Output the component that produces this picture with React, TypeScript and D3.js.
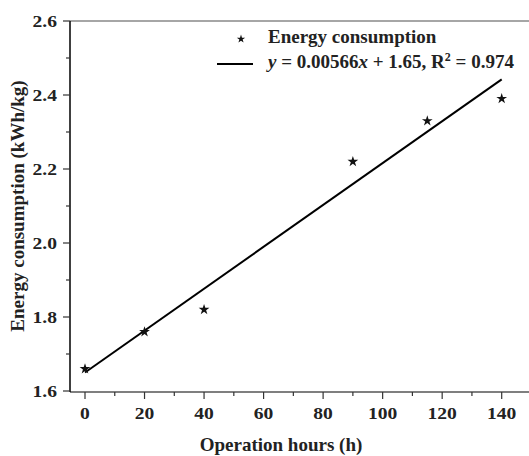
import React from 'react'
import * as d3 from 'd3'

const hours = [0, 20, 40, 90, 115, 140]
const energy = [1.66, 1.76, 1.82, 2.22, 2.33, 2.39]
const fitSlope = 0.00566
const fitIntercept = 1.65
const xTicks = [0, 20, 40, 60, 80, 100, 120, 140]
const yTicks = [1.6, 1.8, 2.0, 2.2, 2.4, 2.6]

const W = 529
const H = 456
const left = 70
const top = 21
const bottom = 391

const x = d3.scaleLinear().domain([0, 140]).range([85, 501.7])
const y = d3.scaleLinear().domain([1.6, 2.6]).range([bottom, top])

const font = '"Liberation Serif", "Times New Roman", serif'
const star = d3.symbol().type(d3.symbolStar).size(36)()
const legendStar = d3.symbol().type(d3.symbolStar).size(22)()

// tick labels in the source are a little wider than plain Times
const stretch = 1.15

const App: React.FC = () => {
  const fit = d3.line<number>()
    .x(d => x(d))
    .y(d => y(fitSlope * d + fitIntercept))([0, 140]) || ''
  const xMinor = d3.range(10, 150, 20)
  const yMinor = d3.range(1.7, 2.6, 0.2)

  return (
    <svg width={W} height={H} style={{ position: 'absolute', left: 0, top: 0 }} fontFamily={font} fontWeight="bold">
      {/* frame */}
      <line x1={left} x2={W} y1={top} y2={top} stroke="#888" strokeWidth={1.5} />
      <line x1={left} x2={W} y1={bottom + 1} y2={bottom + 1} stroke="#555" strokeWidth={1.5} />
      <line x1={left} x2={left} y1={top} y2={bottom + 1} stroke="#000" strokeWidth={1.5} />

      {/* y ticks */}
      {yTicks.map(t => (
        <g key={t}>
          <line x1={left - 7} x2={left} y1={y(t)} y2={y(t)} stroke="#333" strokeWidth={1.2} />
          <text transform={`translate(57,${y(t) + 6}) scale(${stretch},1)`} textAnchor="end" fontSize={17} fill="#222">
            {d3.format('.1f')(t)}
          </text>
        </g>
      ))}
      {yMinor.map(t => (
        <line key={t} x1={left - 4} x2={left} y1={y(t)} y2={y(t)} stroke="#333" strokeWidth={1.2} />
      ))}

      {/* x ticks */}
      {xTicks.map(t => (
        <g key={t}>
          <line x1={x(t)} x2={x(t)} y1={bottom + 1} y2={bottom + 8} stroke="#333" strokeWidth={1.2} />
          <text transform={`translate(${x(t)},419) scale(${stretch},1)`} textAnchor="middle" fontSize={17} fill="#222">{t}</text>
        </g>
      ))}
      {xMinor.map(t => (
        <line key={t} x1={x(t)} x2={x(t)} y1={bottom + 1} y2={bottom + 5} stroke="#333" strokeWidth={1.2} />
      ))}

      {/* axis titles */}
      <text x={281} y={451} textAnchor="middle" fontSize={19} fill="#222">Operation hours (h)</text>
      <text transform={`translate(24,${(top + bottom) / 2}) rotate(-90)`} textAnchor="middle" fontSize={19} fill="#222">
        Energy consumption (kWh/kg)
      </text>

      {/* fit line */}
      <path d={fit} fill="none" stroke="#000" strokeWidth={2} />

      {/* data points */}
      {hours.map((h, i) => (
        <path key={h} d={star} transform={`translate(${x(h)},${y(energy[i])})`} fill="#111" />
      ))}

      {/* legend */}
      <path d={legendStar} transform="translate(241,39)" fill="#111" />
      <text x={268} y={43} fontSize={19} fill="#222">Energy consumption</text>
      <line x1={217} x2={253} y1={64} y2={64} stroke="#000" strokeWidth={2} />
      <text x={268} y={67.5} fontSize={19} fill="#222">
        <tspan fontStyle="italic">y</tspan> = 0.00566<tspan fontStyle="italic">x</tspan> + 1.65, R<tspan dy={-7} fontSize={12}>2</tspan><tspan dy={7}> = 0.974</tspan>
      </text>
    </svg>
  )
}

export default App
